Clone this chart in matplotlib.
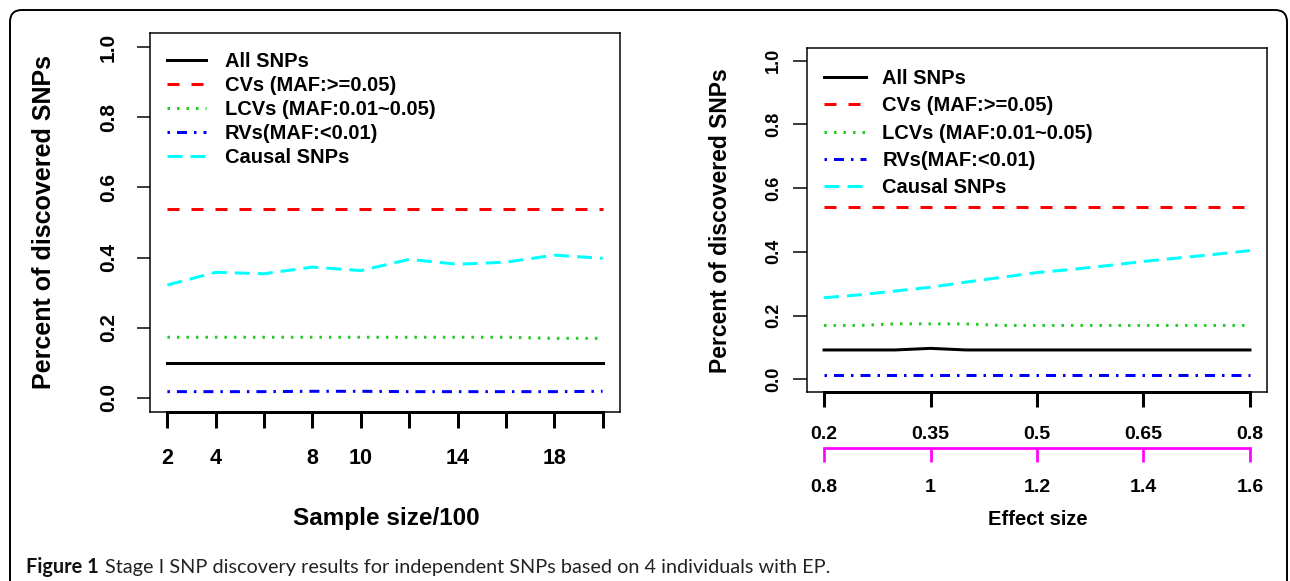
import matplotlib
matplotlib.use("Agg")
import matplotlib.pyplot as plt
from matplotlib.patches import FancyBboxPatch
from matplotlib.transforms import IdentityTransform

plt.rcParams["font.family"] = ["Liberation Sans", "DejaVu Sans"]
plt.rcParams["font.weight"] = "bold"
plt.rcParams["lines.scale_dashes"] = False

W, H = 1290, 581
PX = 72 / 100  # points per pixel at dpi 100

# ---- data: left panel (sample size / 100) ----
sample_size = [2, 4, 6, 8, 10, 12, 14, 16, 18, 20]
sample_ticklabels = ["2", "4", "", "8", "10", "", "14", "", "18", ""]
left_all = [0.099, 0.099, 0.099, 0.099, 0.099, 0.099, 0.099, 0.099, 0.099, 0.099]
left_cv = [0.538, 0.538, 0.538, 0.538, 0.538, 0.538, 0.538, 0.538, 0.538, 0.538]
left_lcv = [0.173, 0.173, 0.173, 0.173, 0.173, 0.173, 0.173, 0.173, 0.170, 0.170]
left_rv = [0.018, 0.018, 0.018, 0.019, 0.019, 0.018, 0.018, 0.018, 0.018, 0.019]
left_causal = [0.322, 0.358, 0.354, 0.373, 0.363, 0.395, 0.381, 0.387, 0.407, 0.398]

# ---- data: right panel (effect size) ----
effect_size = [0.2, 0.25, 0.3, 0.35, 0.4, 0.45, 0.5, 0.55, 0.6, 0.65, 0.7, 0.75, 0.8]
effect_ticks = [0.2, 0.35, 0.5, 0.65, 0.8]
effect_ticklabels = ["0.2", "0.35", "0.5", "0.65", "0.8"]
effect_ticks2 = [0.8, 1.0, 1.2, 1.4, 1.6]
effect_ticklabels2 = ["0.8", "1", "1.2", "1.4", "1.6"]
right_all = [0.092, 0.092, 0.092, 0.097, 0.092, 0.092, 0.092, 0.092, 0.092, 0.092, 0.092, 0.092, 0.092]
right_cv = [0.541, 0.541, 0.541, 0.541, 0.541, 0.541, 0.541, 0.541, 0.541, 0.541, 0.541, 0.541, 0.541]
right_lcv = [0.169, 0.169, 0.174, 0.174, 0.174, 0.169, 0.169, 0.169, 0.169, 0.169, 0.169, 0.169, 0.169]
right_rv = [0.014, 0.014, 0.014, 0.014, 0.014, 0.014, 0.014, 0.014, 0.014, 0.014, 0.014, 0.014, 0.014]
right_causal = [0.256, 0.265, 0.277, 0.289, 0.305, 0.320, 0.335, 0.345, 0.357, 0.370, 0.381, 0.392, 0.404]

labels = ["All SNPs", "CVs (MAF:>=0.05)", "LCVs (MAF:0.01~0.05)", "RVs(MAF:<0.01)", "Causal SNPs"]
yticks = [0.0, 0.2, 0.4, 0.6, 0.8, 1.0]
yticklabels = ["0.0", "0.2", "0.4", "0.6", "0.8", "1.0"]

LW = 3 * PX
styles = [
    dict(color="black", linestyle="-"),
    dict(color="#ff0000", dashes=(12 * PX, 12 * PX)),
    dict(color="#22cc22", dashes=(2.5 * PX, 7 * PX)),
    dict(color="#0000ff", dashes=(2.5 * PX, 7 * PX, 10 * PX, 7 * PX)),
    dict(color="#00ffff", dashes=(15 * PX, 8 * PX)),
]


def draw_panel(ax, x, series, xlim, xticks, xticklabels):
    for lab, ys, st in zip(labels, series, styles):
        ax.plot(x, ys, lw=LW, label=lab, **st)
    ax.set_xlim(*xlim)
    ax.set_ylim(-0.04, 1.04)
    ax.set_xticks(xticks, xticklabels)
    ax.set_yticks(yticks, yticklabels)
    for sp in ax.spines.values():
        sp.set_linewidth(1.5 * PX)
    ax.spines["bottom"].set_bounds(xticks[0], xticks[-1])
    ax.spines["bottom"].set_linewidth(3 * PX)
    ax.axhline(-0.04, color="black", lw=1.5 * PX, clip_on=False)


fig = plt.figure(figsize=(W / 100, H / 100), dpi=100)

# left panel
axL = fig.add_axes([150 / W, 1 - 412 / H, 470 / W, 379 / H])
draw_panel(axL, sample_size, [left_all, left_cv, left_lcv, left_rv, left_causal],
           (1.28, 20.72), sample_size, sample_ticklabels)
axL.tick_params(axis="x", length=16 * PX, width=3 * PX, pad=20 * PX, labelsize=15.5)
axL.tick_params(axis="y", length=13 * PX, width=1.5 * PX, pad=19 * PX, labelsize=15,
                labelrotation=90)
for t in axL.get_yticklabels():
    t.set_va("center")
axL.text(-0.2255, 0.501, "Percent of discovered SNPs", rotation=90, ha="center",
         va="center", fontsize=18, transform=axL.transAxes)
axL.text(0.502, -0.28, "Sample size/100", ha="center", va="center", fontsize=17.5,
         transform=axL.transAxes)
axL.legend(loc="upper left", bbox_to_anchor=(0.036, 0.949), frameon=False, fontsize=14.5,
           handlelength=1.94, handletextpad=0.95, labelspacing=0.25, borderpad=0,
           borderaxespad=0)

# right panel
axR = fig.add_axes([807 / W, 1 - 392 / H, 460 / W, 344 / H])
draw_panel(axR, effect_size, [right_all, right_cv, right_lcv, right_rv, right_causal],
           (0.176, 0.824), effect_ticks, effect_ticklabels)
axR.tick_params(axis="x", length=15 * PX, width=3 * PX, pad=19 * PX, labelsize=14)
axR.tick_params(axis="y", length=14 * PX, width=1.5 * PX, pad=11 * PX, labelsize=13,
                labelrotation=90)
for t in axR.get_yticklabels():
    t.set_va("center")


def to_second(v):
    return 0.8 + (v - 0.2) * (0.8 / 0.6)


def from_second(v):
    return 0.2 + (v - 0.8) * (0.6 / 0.8)


sec = axR.secondary_xaxis(-0.1628, functions=(to_second, from_second))
sec.set_xticks(effect_ticks2, effect_ticklabels2)
sec.spines["bottom"].set_color("#ff00ff")
sec.spines["bottom"].set_linewidth(2.7 * PX)
sec.spines["bottom"].set_bounds(0.8, 1.6)
sec.tick_params(axis="x", color="#ff00ff", labelcolor="black", length=14 * PX,
                width=2.7 * PX, pad=17 * PX, labelsize=14)

axR.text(-0.187, 0.497, "Percent of discovered SNPs", rotation=90, ha="center",
         va="center", fontsize=16.5, transform=axR.transAxes)
axR.text(0.501, -0.37, "Effect size", ha="center", va="center", fontsize=14.5,
         transform=axR.transAxes)
axR.legend(loc="upper left", bbox_to_anchor=(0.038, 0.940), frameon=False, fontsize=14.5,
           handlelength=2.06, handletextpad=0.82, labelspacing=0.42, borderpad=0,
           borderaxespad=0)

# outer rounded frame
frame = FancyBboxPatch((10, -40), 1277, 611, boxstyle="round,pad=0,rounding_size=12",
                       transform=IdentityTransform(), fill=False, ec="black", lw=1.4)
fig.add_artist(frame)

# caption, sized to span the same width as the original
cap_family = ["Lato", "DejaVu Sans"]
cap_rest = "Stage I SNP discovery results for independent SNPs based on 4 individuals with EP."
fs = 13
t1 = fig.text(26.5 / W, (H - 572.7) / H, "Figure 1", fontsize=fs, fontweight="bold",
              family=cap_family, color="#111111")
t2 = fig.text(0, (H - 572.7) / H, cap_rest, fontsize=fs, fontweight="normal",
              family=cap_family, color="#222222")
fig.canvas.draw()
r = fig.canvas.get_renderer()
for _ in range(2):
    b1 = t1.get_window_extent(r)
    gap = 0.28 * fs * 100 / 72
    t2.set_x((b1.x1 + gap) / W)
    b2 = t2.get_window_extent(r)
    fs = fs * (831 - 26.5) / (b2.x1 - b1.x0)
    t1.set_fontsize(fs)
    t2.set_fontsize(fs)
b1 = t1.get_window_extent(r)
t2.set_x((b1.x1 + 0.28 * fs * 100 / 72) / W)

fig.savefig("out.png", dpi=100)
